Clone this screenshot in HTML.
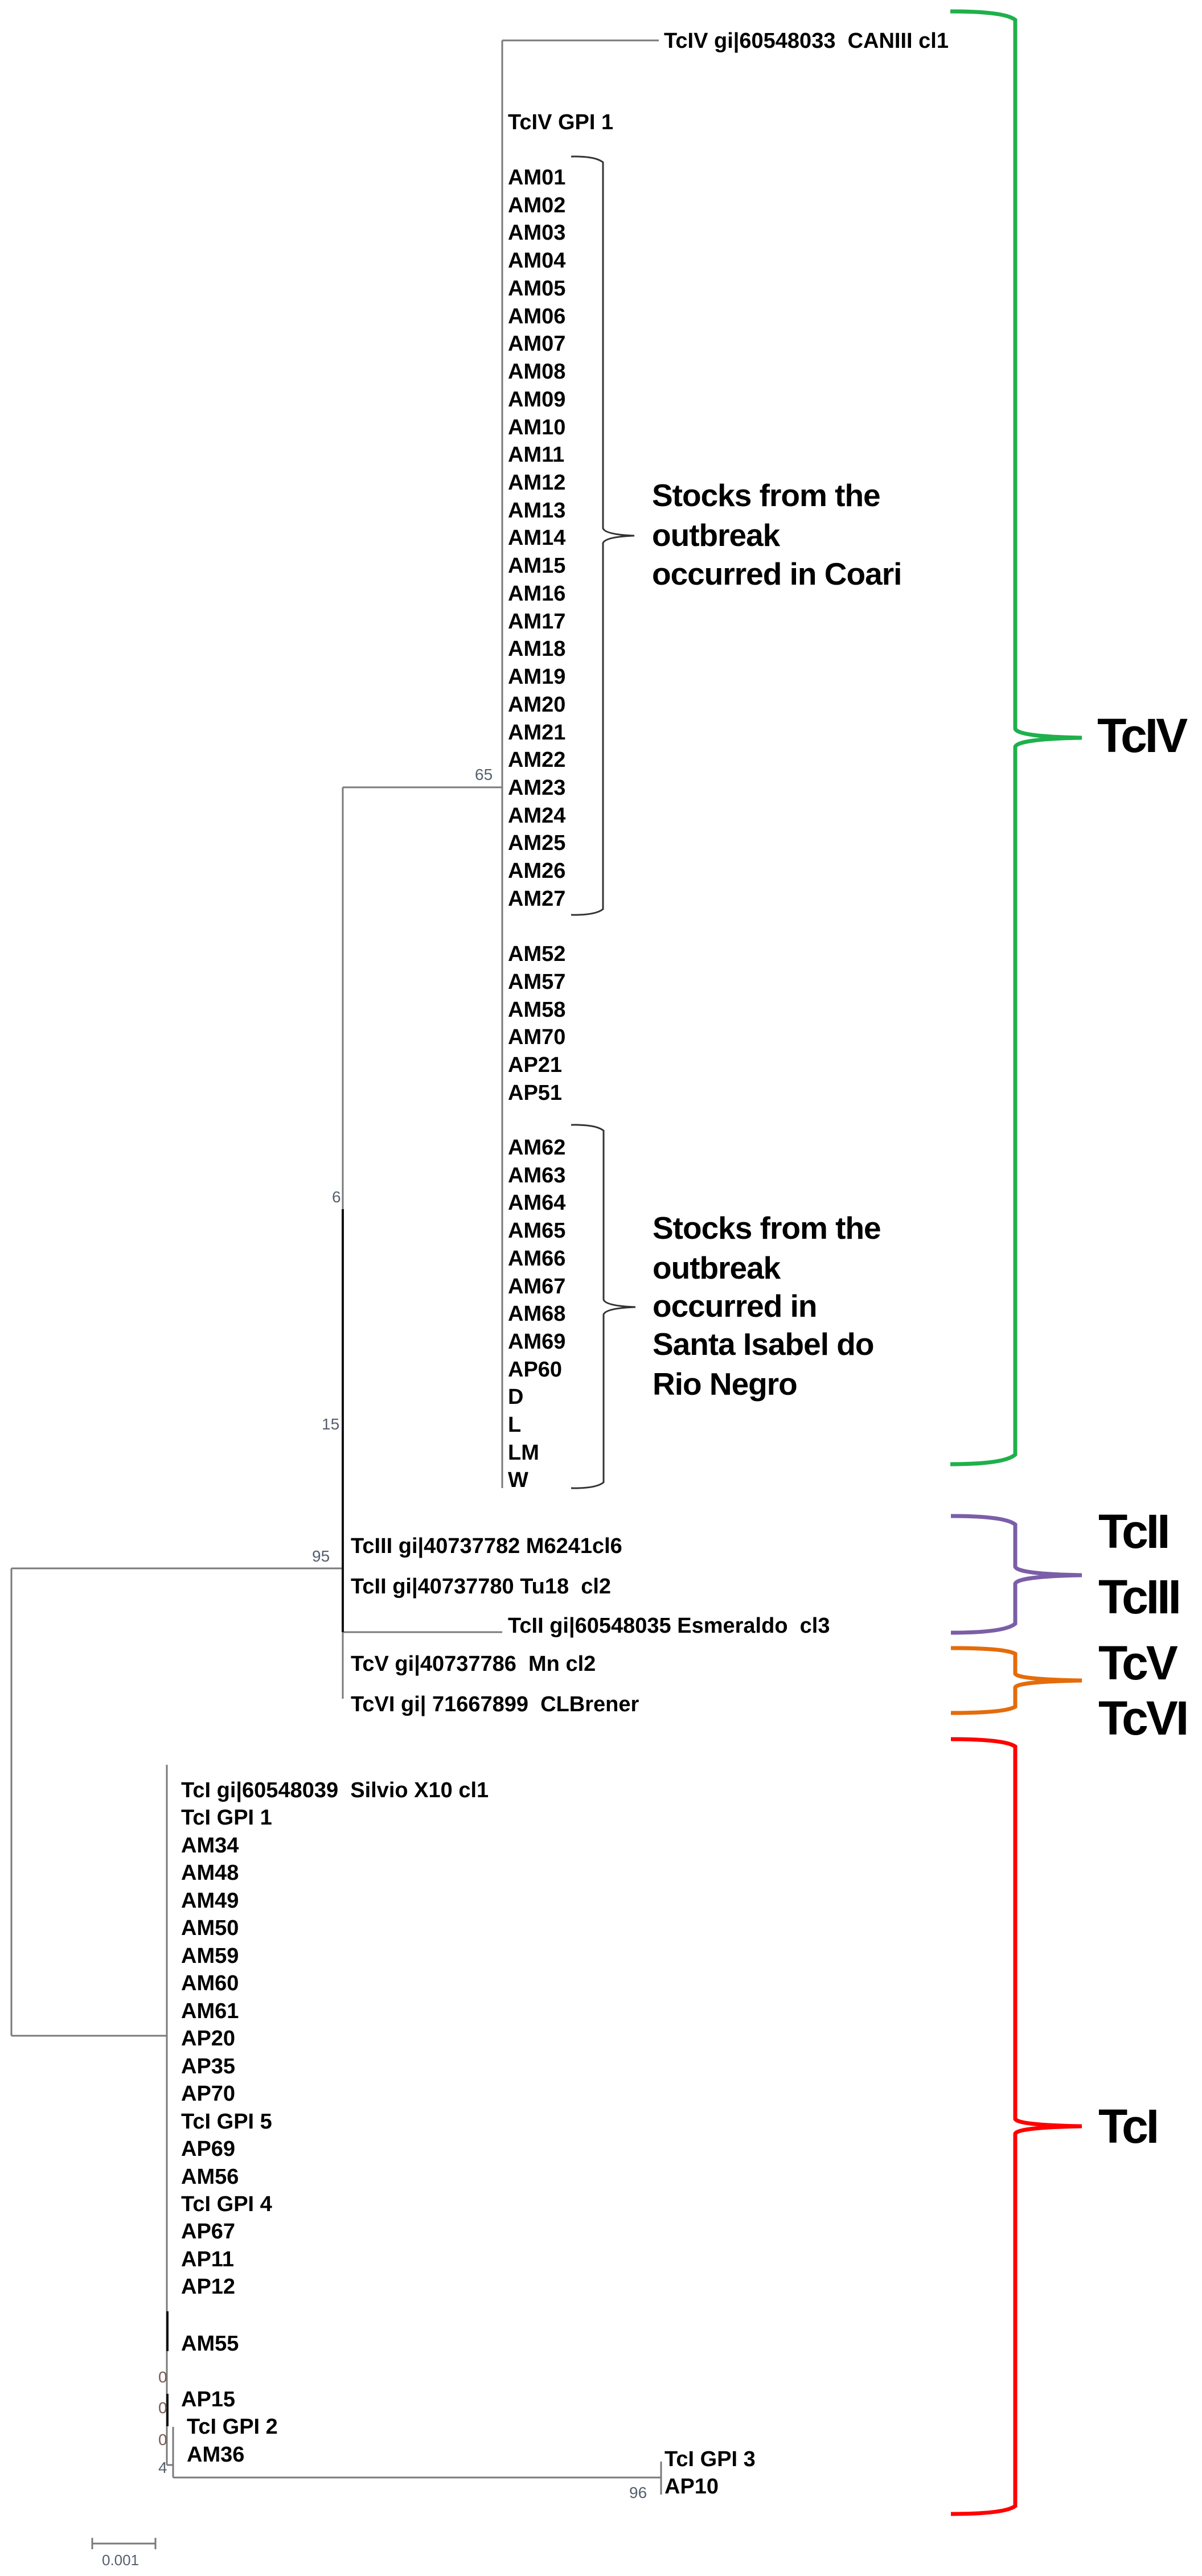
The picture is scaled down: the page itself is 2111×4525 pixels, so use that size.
<!DOCTYPE html>
<html><head><meta charset="utf-8"><style>
html,body{margin:0;padding:0;background:#fff;}
svg{display:block;}
.l{font-family:"Liberation Sans",Arial,sans-serif;font-weight:bold;font-size:38px;fill:#000;}
.s{font-family:"Liberation Sans",Arial,sans-serif;font-weight:bold;font-size:55px;fill:#000;letter-spacing:-1px;}
.b{font-family:"Liberation Sans",Arial,sans-serif;font-weight:bold;font-size:84px;fill:#000;letter-spacing:-4px;}
.n{font-family:"Liberation Sans",Arial,sans-serif;font-size:28px;fill:#55606e;}
</style></head><body>
<svg width="2111" height="4525" viewBox="0 0 2111 4525" xmlns="http://www.w3.org/2000/svg">
<g stroke="#7a7a7a" stroke-width="3" fill="none">
<path d="M882 71 H1157"/>
<path d="M882 71 V2614"/>
<path d="M602 1383 H882"/>
<path d="M602 1383 V2984"/>
<path d="M602 2867 H882"/>
<path d="M20 2755 H602"/>
<path d="M20 2755 V3576"/>
<path d="M20 3576 H293"/>
<path d="M293 3100 V4330"/>
<path d="M293 4330 H304"/>
<path d="M304 4263 V4352"/>
<path d="M304 4352 H1161"/>
<path d="M1161 4324 V4382"/>
<path d="M162 4468 H273 M162 4458 V4478 M273 4458 V4478"/>
</g>
<g stroke="#111" stroke-width="4" fill="none">
<path d="M602 2124 V2867"/>
<path d="M294 4060 V4130 M294 4205 V4262"/>
</g>
<!-- small black braces -->
<g stroke="#333" stroke-width="3" fill="none">
<path d="M1003 275 Q1045 274 1059 285 V928 Q1063 939 1114 941 Q1063 943 1059 954 V1597 Q1045 1608 1003 1607"/>
<path d="M1003 1976 Q1046 1975 1060 1986 V2283 Q1064 2294 1116 2296 Q1064 2298 1060 2309 V2604 Q1046 2615 1003 2614"/>
</g>
<!-- colored braces -->
<g stroke-width="7" fill="none">
<path stroke="#1fb04b" d="M1669 20 Q1765 20 1783 35 V1280 Q1787 1294 1900 1296 Q1787 1298 1783 1312 V2555 Q1765 2572 1669 2572"/>
<path stroke="#7b5ea7" d="M1670 2663 Q1765 2663 1783 2678 V2752 Q1787 2765 1900 2767 Q1787 2769 1783 2782 V2852 Q1765 2868 1670 2868"/>
<path stroke="#e46c0a" d="M1670 2895 Q1765 2895 1783 2905 V2940 Q1787 2950 1900 2952 Q1787 2954 1783 2964 V2998 Q1765 3009 1670 3009"/>
<path stroke="#ff0000" d="M1670 3055 Q1765 3055 1783 3068 V3722 Q1787 3733 1900 3735 Q1787 3737 1783 3748 V4402 Q1765 4416 1670 4416"/>
</g>
<g class="b">
<text x="1927" y="1321">TcIV</text>
<text x="1929" y="2719">TcII</text>
<text x="1929" y="2834">TcIII</text>
<text x="1929" y="2950">TcV</text>
<text x="1929" y="3047">TcVI</text>
<text x="1929" y="3764">TcI</text>
</g>
<g class="s">
<text x="1145" y="889">Stocks from the</text>
<text x="1145" y="959">outbreak</text>
<text x="1145" y="1027">occurred in Coari</text>
<text x="1146" y="2176">Stocks from the</text>
<text x="1146" y="2246">outbreak</text>
<text x="1146" y="2313">occurred in</text>
<text x="1146" y="2380">Santa Isabel do</text>
<text x="1146" y="2450">Rio Negro</text>
</g>
<g class="l">
<text x="1166" y="84">TcIV gi|60548033&#160;&#160;CANIII&#160;cl1</text>
<text x="892" y="227">TcIV GPI 1</text>
<text x="892" y="324">AM01</text><text x="892" y="373">AM02</text><text x="892" y="421">AM03</text><text x="892" y="470">AM04</text><text x="892" y="519">AM05</text><text x="892" y="568">AM06</text><text x="892" y="616">AM07</text><text x="892" y="665">AM08</text><text x="892" y="714">AM09</text><text x="892" y="763">AM10</text><text x="892" y="811">AM11</text><text x="892" y="860">AM12</text><text x="892" y="909">AM13</text><text x="892" y="957">AM14</text><text x="892" y="1006">AM15</text><text x="892" y="1055">AM16</text><text x="892" y="1104">AM17</text><text x="892" y="1152">AM18</text><text x="892" y="1201">AM19</text><text x="892" y="1250">AM20</text><text x="892" y="1299">AM21</text><text x="892" y="1347">AM22</text><text x="892" y="1396">AM23</text><text x="892" y="1445">AM24</text><text x="892" y="1493">AM25</text><text x="892" y="1542">AM26</text><text x="892" y="1591">AM27</text>
<text x="892" y="1688">AM52</text><text x="892" y="1737">AM57</text><text x="892" y="1786">AM58</text><text x="892" y="1834">AM70</text><text x="892" y="1883">AP21</text><text x="892" y="1932">AP51</text>
<text x="892" y="2028">AM62</text><text x="892" y="2077">AM63</text><text x="892" y="2125">AM64</text><text x="892" y="2174">AM65</text><text x="892" y="2223">AM66</text><text x="892" y="2272">AM67</text><text x="892" y="2320">AM68</text><text x="892" y="2369">AM69</text><text x="892" y="2418">AP60</text><text x="892" y="2466">D</text><text x="892" y="2515">L</text><text x="892" y="2564">LM</text><text x="892" y="2612">W</text>
<text x="616" y="2728">TcIII gi|40737782 M6241cl6</text>
<text x="616" y="2799">TcII gi|40737780 Tu18&#160;&#160;cl2</text>
<text x="892" y="2868">TcII gi|60548035 Esmeraldo&#160;&#160;cl3</text>
<text x="616" y="2935">TcV gi|40737786&#160;&#160;Mn&#160;cl2</text>
<text x="616" y="3006">TcVI gi| 71667899&#160;&#160;CLBrener</text>
<text x="318" y="3157">TcI gi|60548039&#160;&#160;Silvio X10 cl1</text>
<text x="318" y="3205">TcI GPI 1</text><text x="318" y="3254">AM34</text><text x="318" y="3302">AM48</text><text x="318" y="3351">AM49</text><text x="318" y="3399">AM50</text><text x="318" y="3448">AM59</text><text x="318" y="3496">AM60</text><text x="318" y="3545">AM61</text><text x="318" y="3593">AP20</text><text x="318" y="3642">AP35</text><text x="318" y="3690">AP70</text><text x="318" y="3739">TcI GPI 5</text><text x="318" y="3787">AP69</text><text x="318" y="3836">AM56</text><text x="318" y="3884">TcI GPI 4</text><text x="318" y="3932">AP67</text><text x="318" y="3981">AP11</text><text x="318" y="4029">AP12</text>
<text x="318" y="4129">AM55</text>
<text x="318" y="4227">AP15</text>
<text x="328" y="4275">TcI GPI 2</text>
<text x="328" y="4324">AM36</text>
<text x="1167" y="4332">TcI GPI 3</text>
<text x="1167" y="4380">AP10</text>
</g>
<g class="n">
<text x="834" y="1370">65</text>
<text x="583" y="2112">6</text>
<text x="565" y="2511">15</text>
<text x="548" y="2743">95</text>
<text x="278" y="4185" fill="#7a5a50">0</text>
<text x="278" y="4239" fill="#7a5a50">0</text>
<text x="278" y="4295" fill="#7a5a50">0</text>
<text x="278" y="4344">4</text>
<text x="1105" y="4388">96</text>
<text x="179" y="4506" font-size="26">0.001</text>
</g>
</svg>
</body></html>
